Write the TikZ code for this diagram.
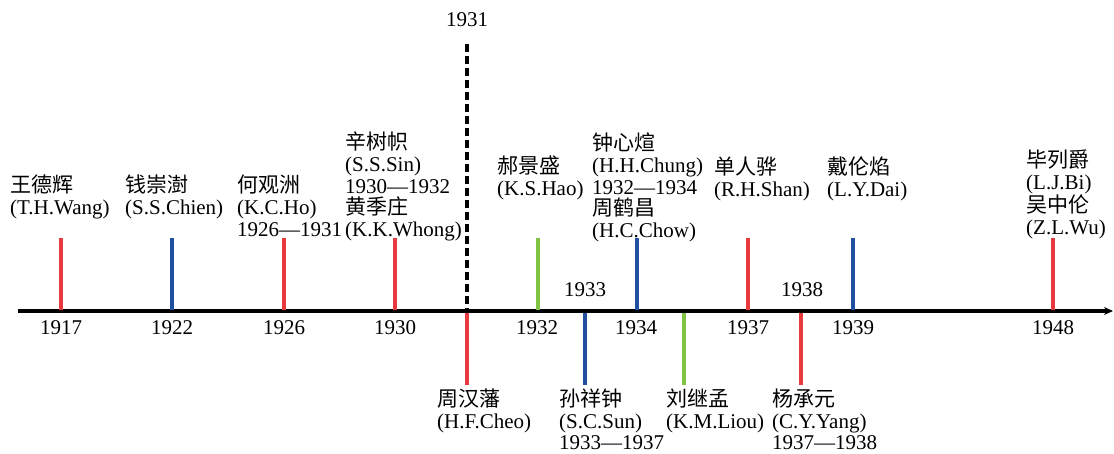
\documentclass[tikz,border=0pt]{standalone}
\usepackage{fontspec}
\setmainfont{Liberation Serif}
\newfontfamily\cjk{Noto Sans CJK SC}
\usetikzlibrary{arrows.meta}
\definecolor{tred}{RGB}{232,58,62}
\definecolor{tblue}{RGB}{33,80,160}
\definecolor{tgreen}{RGB}{128,195,66}
\tikzset{
  lbl/.style={anchor=north west, inner sep=0pt, align=left, font=\fontsize{21}{21.6}\selectfont},
  lblb/.style={anchor=north west, inner sep=0pt, align=left, font=\fontsize{21}{21.2}\selectfont},
  yr/.style={inner sep=0pt, font=\fontsize{21}{21.6}\selectfont},
  tk/.style={line width=3.3pt},
}
\begin{document}
\begin{tikzpicture}[x=1pt,y=-1pt]
\useasboundingbox (0,0) rectangle (1114,453);
% axis
\coordinate (a0) at (18,311);
\coordinate (a1) at (1113,311);
\draw[line width=3.6pt,-{Stealth[length=9pt,width=8pt]}] (a0) -- (a1);
% dashed 1931
\coordinate (d0) at (467,44);
\coordinate (d1) at (467,311);
\draw[line width=4pt, dash pattern=on 8pt off 4pt] (d0) -- (d1);
\node[yr] (y1931top) at (467,20) {1931};
% ticks above
\draw[tk,tred]   (61,238) -- (61,310);
\draw[tk,tblue]  (172,238) -- (172,310);
\draw[tk,tred]   (284,238) -- (284,310);
\draw[tk,tred]   (395,238) -- (395,310);
\draw[tk,tgreen] (538,238) -- (538,310);
\draw[tk,tblue]  (637,238) -- (637,310);
\draw[tk,tred]   (748,238) -- (748,310);
\draw[tk,tblue]  (853,238) -- (853,310);
\draw[tk,tred]   (1053,238) -- (1053,310);
% ticks below
\draw[tk,tred]   (467,313) -- (467,385);
\draw[tk,tblue]  (585,313) -- (585,385);
\draw[tk,tgreen] (684,313) -- (684,385);
\draw[tk,tred]   (801,313) -- (801,385);
% year labels
\node[yr] (y1917) at (61,328) {1917};
\node[yr] (y1922) at (172,328) {1922};
\node[yr] (y1926) at (284,328) {1926};
\node[yr] (y1930) at (395,328) {1930};
\node[yr] (y1932) at (537,328) {1932};
\node[yr] (y1934) at (636,328) {1934};
\node[yr] (y1937) at (748,328) {1937};
\node[yr] (y1939) at (853,328) {1939};
\node[yr] (y1948) at (1053,328) {1948};
\node[yr] (y1933) at (585,290) {1933};
\node[yr] (y1938) at (802,290) {1938};
% names above
\node[lbl] (wang) at (10,175) {{\cjk 王德辉}\\(T.H.Wang)};
\node[lbl] (chien) at (125,175) {{\cjk 钱崇澍}\\(S.S.Chien)};
\node[lbl] (ho) at (237,175) {{\cjk 何观洲}\\(K.C.Ho)\\1926—1931};
\node[lbl] (sin) at (345,132) {{\cjk 辛树帜}\\(S.S.Sin)\\1930—1932\\{\cjk 黄季庄}\\(K.K.Whong)};
\node[lbl] (hao) at (497,156) {{\cjk 郝景盛}\\(K.S.Hao)};
\node[lbl] (chung) at (592,133) {{\cjk 钟心煊}\\(H.H.Chung)\\1932—1934\\{\cjk 周鹤昌}\\(H.C.Chow)};
\node[lbl] (shan) at (714,157) {{\cjk 单人骅}\\(R.H.Shan)};
\node[lbl] (dai) at (827,157) {{\cjk 戴伦焰}\\(L.Y.Dai)};
\node[lbl] (bi) at (1026,150) {{\cjk 毕列爵}\\(L.J.Bi)\\{\cjk 吴中伦}\\(Z.L.Wu)};
% names below
\node[lblb] (cheo) at (437,389) {{\cjk 周汉藩}\\(H.F.Cheo)};
\node[lblb] (sun) at (559,389) {{\cjk 孙祥钟}\\(S.C.Sun)\\1933—1937};
\node[lblb] (liou) at (666,389) {{\cjk 刘继孟}\\(K.M.Liou)};
\node[lblb] (yang) at (772,389) {{\cjk 杨承元}\\(C.Y.Yang)\\1937—1938};
\end{tikzpicture}
\end{document}
